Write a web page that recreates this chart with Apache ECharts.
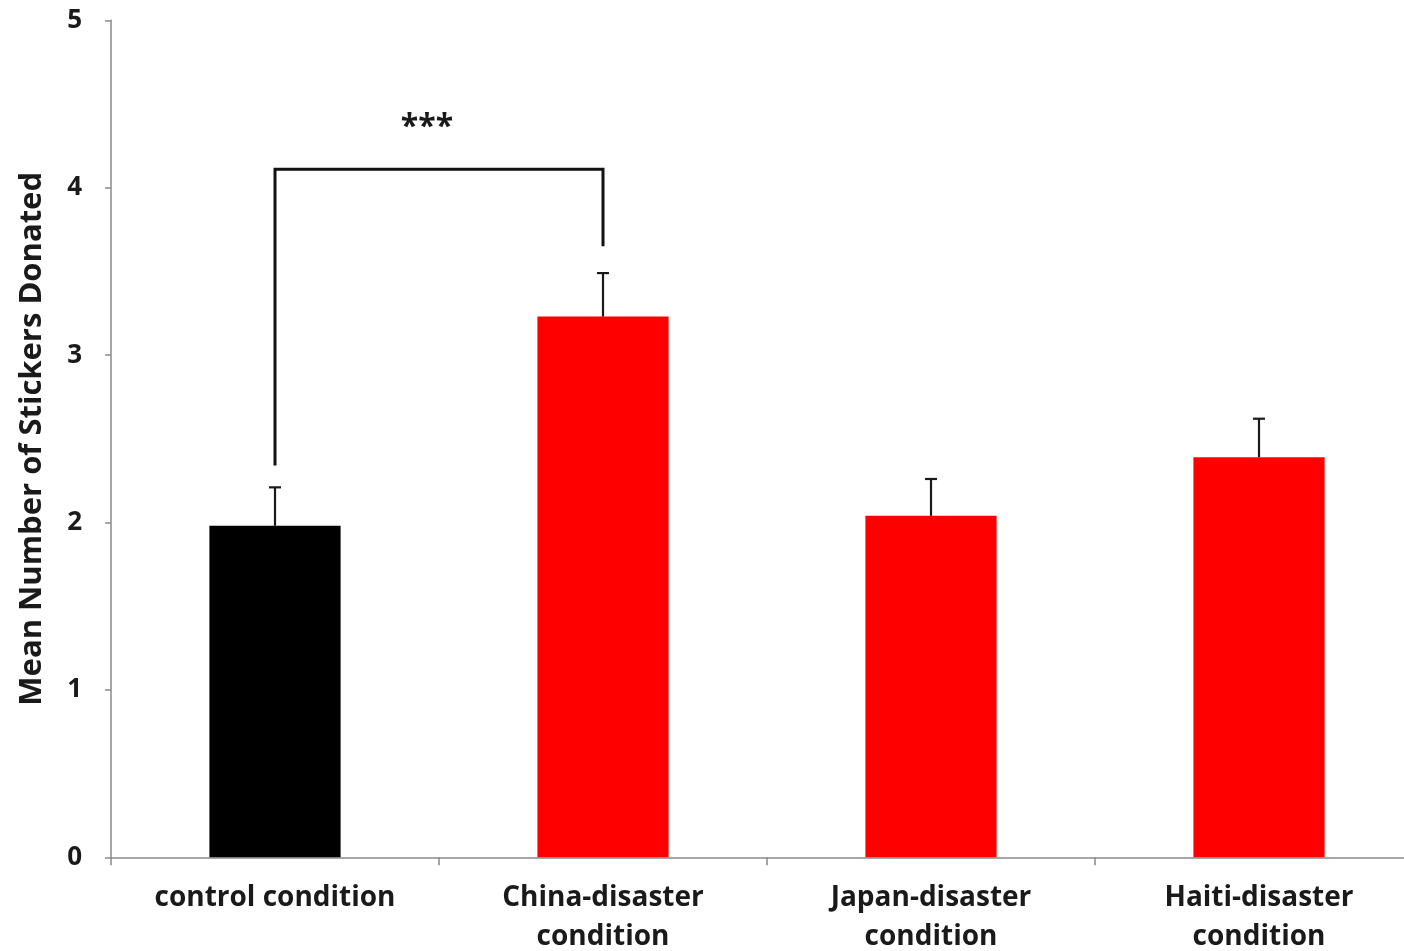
<!DOCTYPE html>
<html>
<head>
<meta charset="utf-8">
<script src="https://cdn.jsdelivr.net/npm/echarts@6/dist/echarts.min.js"></script>
<style>
  html, body { margin: 0; padding: 0; background: #fff; }
  #chart { width: 1404px; height: 951px; }
</style>
</head>
<body>
<div id="chart"></div>
<script>
// Conditions and mean stickers donated, with the upper end of each error bar
const categories = ['control condition', 'China-disaster\ncondition', 'Japan-disaster\ncondition', 'Haiti-disaster\ncondition'];
const means = [1.98, 3.23, 2.04, 2.39];
const errorTops = [2.21, 3.49, 2.26, 2.62];
const barColors = ['#000000', '#ff0000', '#ff0000', '#ff0000'];
const yTicks = [0, 1, 2, 3, 4, 5];

// Significance bracket between control and China: [fromCat, toCat, leftFoot, rightFoot, top]
const bracket = [[0, 1, 2.34, 3.65, 4.11]];
const bracketLabel = '***';
const bracketLabelY = 4.36;

const FONT = '"Open Sans", Lato, sans-serif';
const AXIS_GRAY = '#8a8a8a';

const chart = echarts.init(document.getElementById('chart'), null, { renderer: 'canvas' });

chart.setOption({
  backgroundColor: '#ffffff',
  animation: false,
  grid: { left: 111, right: -19, top: 20.3, bottom: 93.7, outerBoundsMode: 'none', containLabel: false },
  xAxis: {
    type: 'category',
    data: categories,
    axisLine: { lineStyle: { color: AXIS_GRAY, width: 1.5 } },
    axisTick: { show: true, length: 8, lineStyle: { color: AXIS_GRAY, width: 1.5 } },
    axisLabel: {
      color: '#1a1a1a', fontFamily: FONT, fontWeight: 'bold', fontSize: 28,
      lineHeight: 39, margin: 21
    }
  },
  yAxis: {
    type: 'value',
    min: yTicks[0], max: yTicks[yTicks.length - 1], interval: 1,
    name: 'Mean Number of Stickers Donated',
    nameLocation: 'middle',
    nameGap: 63,
    nameTextStyle: { color: '#1a1a1a', fontFamily: FONT, fontWeight: 'bold', fontSize: 31 },
    splitLine: { show: false },
    axisLine: { show: true, lineStyle: { color: AXIS_GRAY, width: 1.5 } },
    axisTick: { show: true, length: 6, lineStyle: { color: AXIS_GRAY, width: 1.5 } },
    axisLabel: { color: '#1a1a1a', fontFamily: FONT, fontWeight: 'bold', fontSize: 26, margin: 29 }
  },
  series: [
    {
      type: 'bar',
      barWidth: '40%',
      data: means.map((v, i) => ({ value: v, itemStyle: { color: barColors[i] } })),
      z: 2
    },
    {
      // upper error bars with caps
      type: 'custom',
      z: 3,
      data: means.map((v, i) => [i, v, errorTops[i]]),
      renderItem: function (params, api) {
        const base = api.coord([api.value(0), api.value(1)]);
        const top = api.coord([api.value(0), api.value(2)]);
        const half = 6;
        const style = { stroke: '#1a1a1a', lineWidth: 2.2 };
        return {
          type: 'group',
          children: [
            { type: 'line', shape: { x1: base[0], y1: base[1], x2: top[0], y2: top[1] }, style: style },
            { type: 'line', shape: { x1: top[0] - half, y1: top[1], x2: top[0] + half, y2: top[1] }, style: style }
          ]
        };
      }
    },
    {
      // significance bracket and its stars
      type: 'custom',
      z: 4,
      data: bracket,
      renderItem: function (params, api) {
        const a = api.value(0), b = api.value(1);
        const p1 = api.coord([a, api.value(2)]);
        const p2 = api.coord([a, api.value(4)]);
        const p3 = api.coord([b, api.value(4)]);
        const p4 = api.coord([b, api.value(3)]);
        const star = api.coord([a, bracketLabelY]);
        return {
          type: 'group',
          children: [
            {
              type: 'polyline',
              shape: { points: [p1, p2, p3, p4] },
              style: { stroke: '#111', lineWidth: 3, fill: null }
            },
            {
              type: 'text',
              style: {
                text: bracketLabel,
                x: (p2[0] + p3[0]) / 2 - 12,
                y: star[1],
                align: 'center',
                verticalAlign: 'middle',
                fill: '#1a1a1a',
                font: 'bold 32px ' + FONT
              }
            }
          ]
        };
      }
    }
  ]
});
</script>
</body>
</html>
